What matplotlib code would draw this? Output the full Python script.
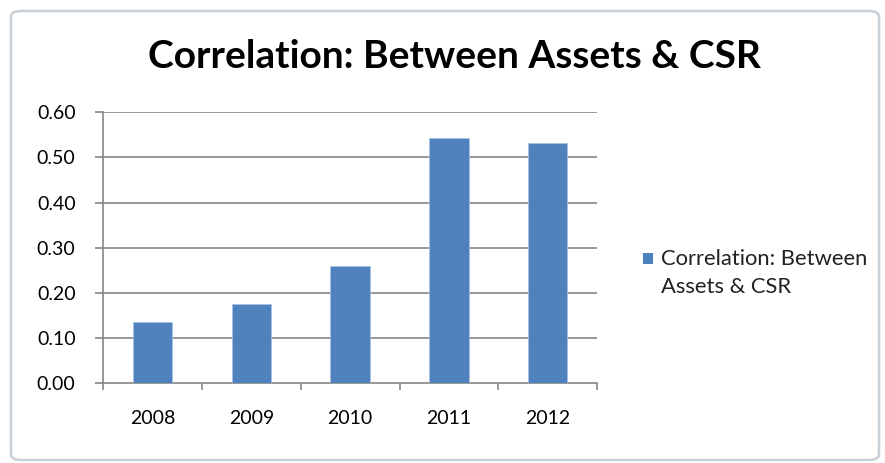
import matplotlib
matplotlib.use("Agg")
import matplotlib.pyplot as plt
from matplotlib.patches import FancyBboxPatch, Rectangle
import numpy as np

years = ["2008", "2009", "2010", "2011", "2012"]
values = [0.135, 0.176, 0.260, 0.544, 0.531]
series_name = "Correlation: Between\nAssets & CSR"
title = "Correlation: Between Assets & CSR"
yticks = [0.0, 0.1, 0.2, 0.3, 0.4, 0.5, 0.6]

W, H = 885, 463
fig = plt.figure(figsize=(W / 100, H / 100), dpi=100)
plt.rcParams['font.family'] = ['Lato', 'DejaVu Sans']

# outer rounded frame
frame = FancyBboxPatch((11 / W, 3 / H), 868 / W, 449 / H,
                       boxstyle="round,pad=0,rounding_size=0.012",
                       transform=fig.transFigure, facecolor="none",
                       edgecolor="#c8d0d6", linewidth=1.8, zorder=-10)
fig.patches.append(frame)

ax = fig.add_axes([103.3 / W, 1 - 383.3 / H, (597 - 103.3) / W, (383.3 - 112.3) / H])
x = np.arange(len(years))
bar_color = "#4f81bd"
ax.bar(x, values, width=0.4, color=bar_color, edgecolor="#a9c1e0", linewidth=0.6, zorder=3)

ax.set_xlim(-0.5, len(years) - 0.5)
ax.set_ylim(0, 0.6)
ax.set_yticks(yticks)
ax.set_yticklabels([f"{v:.2f}" for v in yticks])
ax.set_xticks(x)
ax.set_xticklabels(years)
ax.set_xticks(np.arange(-0.5, len(years), 1), minor=True)

grid_col = "#868686"
for v in yticks[1:]:
    ax.axhline(v, color=grid_col, linewidth=1.2, zorder=1)
for s in ["top", "right"]:
    ax.spines[s].set_visible(False)
for s in ["left", "bottom"]:
    ax.spines[s].set_color(grid_col)
    ax.spines[s].set_linewidth(1.2)

ax.tick_params(axis="y", length=6, width=1.2, color=grid_col, pad=14, labelsize=14)
ax.tick_params(axis="x", which="major", length=0, pad=19, labelsize=14)
ax.tick_params(axis="x", which="minor", length=5, width=1.2, color=grid_col)
ax.set_facecolor("none")

fig.text(454 / W, 1 - 57 / H, title, ha="center", va="center",
         fontsize=28, fontweight="bold", color="black")

# legend
fig.patches.append(Rectangle((643 / W, 1 - 264 / H), 10 / W, 11 / H,
                             transform=fig.transFigure, facecolor=bar_color,
                             edgecolor="none"))
fig.text(661 / W, 1 - 273 / H, series_name, ha="left", va="center",
         fontsize=15.8, linespacing=1.45, color="#222222")

fig.savefig("out.png", dpi=100)
